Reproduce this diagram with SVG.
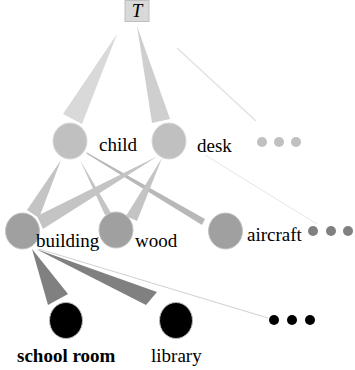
<svg xmlns="http://www.w3.org/2000/svg" width="355" height="370" viewBox="0 0 355 370">
<defs>
<style>
.l1{fill:#c0c0c0;stroke:#d8d8d8;stroke-width:1}
.l2{fill:#a0a0a0;stroke:#c4c4c4;stroke-width:1}
.l3{fill:#000;stroke:#bbb;stroke-width:1}
.d1{fill:#c0c0c0}
.d2{fill:#808080}
.d3{fill:#000}
</style>
</defs>
<rect width="355" height="370" fill="#fff"/>
<g id="connectors">
<polygon points="117,34 63,114 82,124" fill="#d9d9d9"/>
<polygon points="137,26 152,123 170,119" fill="#cfcfcf"/>
<line x1="177" y1="48" x2="256" y2="121" stroke="#e2e2e2" stroke-width="1.5"/>
<polygon points="61,160 27,210 39,218" fill="#c4c4c4"/>
<polygon points="80,160 105,215 111,213" fill="#c4c4c4"/>
<polygon points="86,152 87,154 202,225 205,219" fill="#b8b8b8"/>
<polygon points="158,156 37,216 43,229" fill="#c4c4c4"/>
<polygon points="162,158 126,216 137,221" fill="#c4c4c4"/>
<line x1="205" y1="155" x2="317" y2="224" stroke="#e6e6e6" stroke-width="1"/>
<polygon points="32,249 48,305 68,294" fill="#808080"/>
<polygon points="36,249 146,305 157,292" fill="#808080"/>
<line x1="39" y1="249" x2="268" y2="318" stroke="#d0d0d0" stroke-width="1"/>
</g>
<g id="T">
<rect x="125" y="0.5" width="24" height="21" fill="#d9d9d9" stroke="#c0c0c0" stroke-width="1"/>
<text x="137" y="17" text-anchor="middle" font-family="Liberation Serif" font-size="19" font-style="italic">T</text>
</g>
<g id="child">
<ellipse class="l1" cx="70" cy="141" rx="17" ry="18"/>
<text x="99" y="151" font-family="Liberation Serif" font-size="19">child</text>
</g>
<g id="desk">
<ellipse class="l1" cx="169" cy="141" rx="17" ry="18"/>
<text x="197" y="152" font-family="Liberation Serif" font-size="19">desk</text>
</g>
<g id="dots1">
<circle class="d1" cx="262" cy="142" r="5"/>
<circle class="d1" cx="279" cy="142" r="5"/>
<circle class="d1" cx="296" cy="142" r="5"/>
</g>
<g id="building">
<ellipse class="l2" cx="22.5" cy="231" rx="17" ry="18"/>
<text x="36" y="247" font-family="Liberation Serif" font-size="19">building</text>
</g>
<g id="wood">
<ellipse class="l2" cx="116" cy="230" rx="17" ry="18"/>
<text x="135" y="247" font-family="Liberation Serif" font-size="19">wood</text>
</g>
<g id="aircraft">
<ellipse class="l2" cx="225.5" cy="231" rx="17" ry="18"/>
<text x="247" y="241" font-family="Liberation Serif" font-size="19">aircraft</text>
</g>
<g id="dots2">
<circle class="d2" cx="313" cy="231" r="5"/>
<circle class="d2" cx="331" cy="231" r="5"/>
<circle class="d2" cx="348" cy="231" r="5"/>
</g>
<g id="school-room">
<ellipse class="l3" cx="66" cy="320.5" rx="16.5" ry="18"/>
<text x="17" y="362" font-family="Liberation Serif" font-size="19" font-weight="bold">school room</text>
</g>
<g id="library">
<ellipse class="l3" cx="176" cy="320.5" rx="16.5" ry="18"/>
<text x="151" y="362" font-family="Liberation Serif" font-size="19">library</text>
</g>
<g id="dots3">
<circle class="d3" cx="274" cy="320" r="5"/>
<circle class="d3" cx="292" cy="320" r="5"/>
<circle class="d3" cx="310" cy="320" r="5"/>
</g>
</svg>
